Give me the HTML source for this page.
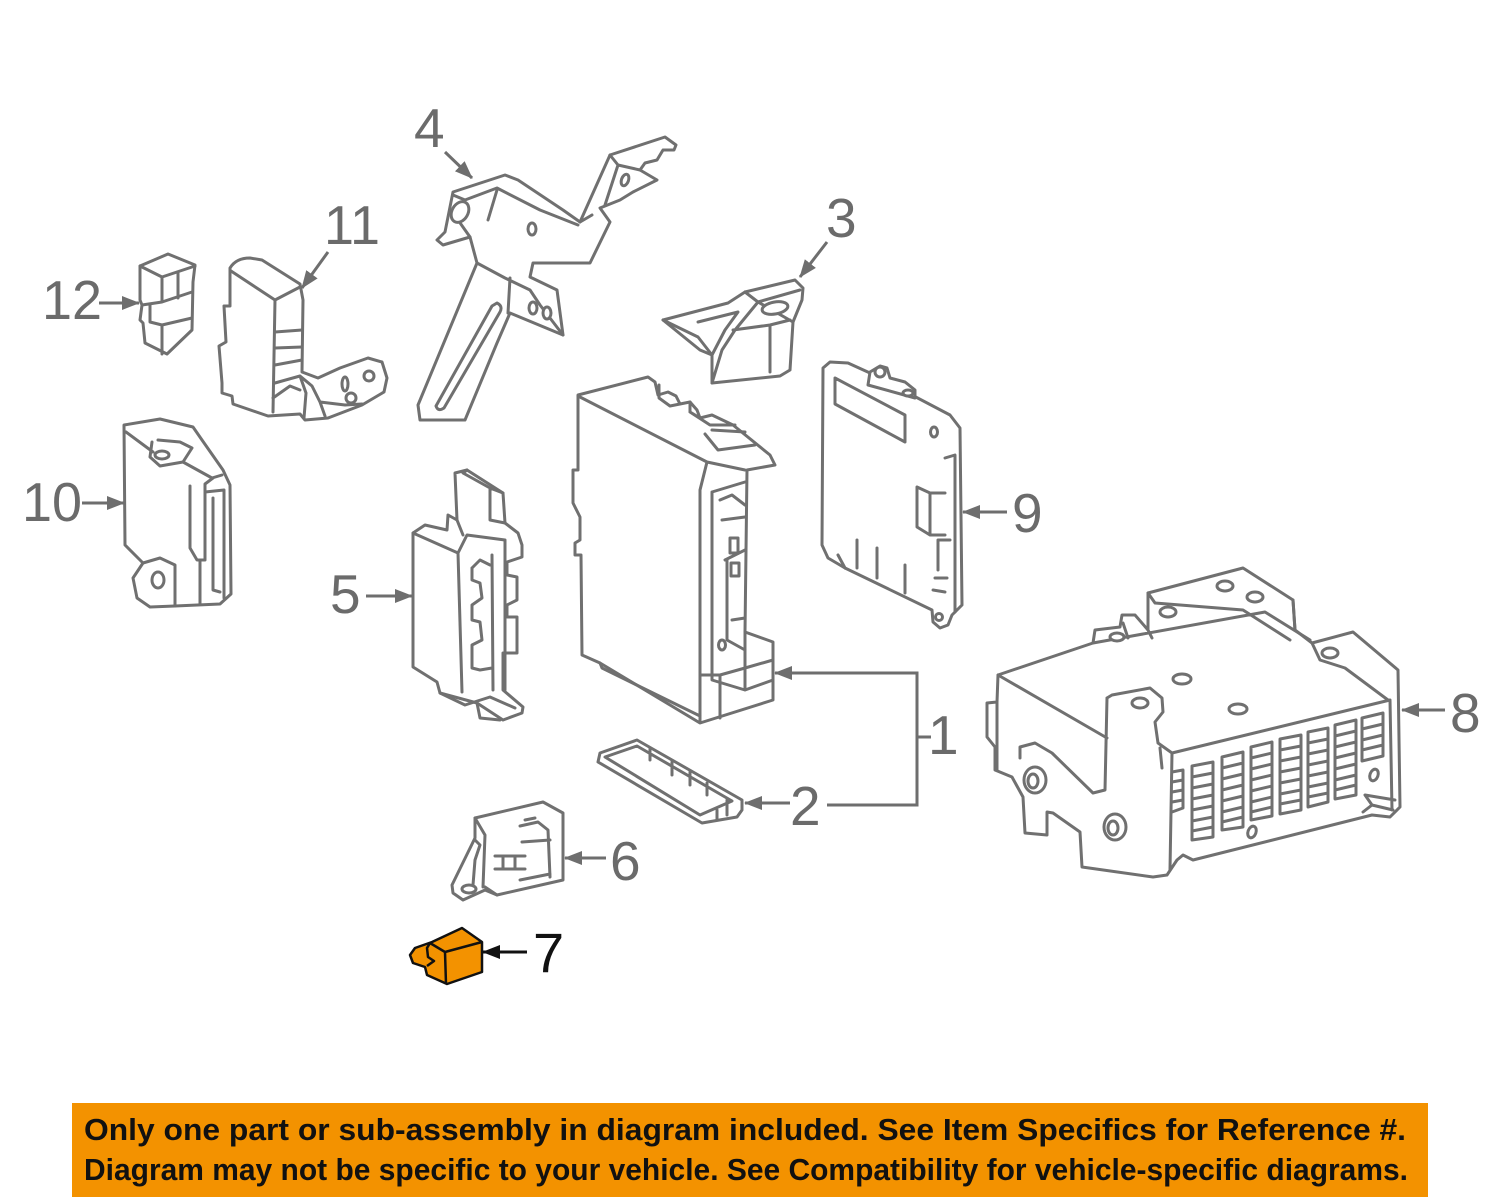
<!DOCTYPE html>
<html><head><meta charset="utf-8"><style>
html,body{margin:0;padding:0;background:#fff;}
svg{display:block;}
</style></head><body>
<svg width="1500" height="1197" viewBox="0 0 1500 1197" xmlns="http://www.w3.org/2000/svg">
<defs>
<marker id="ah" markerWidth="18" markerHeight="16" refX="17" refY="8" orient="auto" markerUnits="userSpaceOnUse"><path d="M0,1 L18,8 L0,15 Z" fill="#6e6e6e"/></marker>
<marker id="ahk" markerWidth="18" markerHeight="16" refX="17" refY="8" orient="auto" markerUnits="userSpaceOnUse"><path d="M0,1 L18,8 L0,15 Z" fill="#111"/></marker>
</defs>

<g fill="#fff" stroke="#707070" stroke-width="3" stroke-linejoin="round" stroke-linecap="round">

<!-- Part 12 -->
<path d="M140,266 L168,254 L195,265 L193,282 L192,330 L167,354 L145,343 L143,323 L140,320 L142,305 L140,300 Z"/>
<path fill="none" d="M140,266 L162,277 L195,266 M162,277 L162,302 M142,305 L162,302 L192,292 M150,305 L150,322 L162,325 L162,354 M162,325 L192,318 M178,272 L178,298"/>

<!-- Part 11 -->
<path d="M230,268 Q236,258 250,258 L262,260 L300,284 L303,300 L302,372 L318,378 L340,368 L368,358 L382,362 L387,378 L384,392 L362,405 L328,418 L305,420 L300,414 L268,416 L233,404 L232,396 L222,393 L222,383 L219,346 L226,342 L224,306 L230,306 Z"/>
<path fill="none" d="M231,271 L275,300 L300,287 M275,300 L273,412 M275,332 L302,330 M275,348 L302,347 M275,365 L302,360 M275,383 L300,376 L312,386 L320,402 L345,405 L362,404 M300,376 L306,393 L304,418 M273,398 L290,386 L300,390 M320,402 L325,416"/>
<ellipse cx="345" cy="384" rx="3" ry="7"/>
<circle cx="369" cy="376" r="5"/>
<circle cx="351" cy="398" r="5"/>

<!-- Part 10 -->
<path d="M124,425 L160,419 L193,427 L202,440 L223,470 L230,485 L231,594 L220,604 L175,606 L150,607 L137,598 L133,578 L143,563 L125,545 Z"/>
<path fill="none" d="M126,432 L153,452 M152,442 L150,457 L160,466 L183,462 L192,448 L180,442 L158,440 M183,462 L212,478 L222,475 M190,486 L190,548 L197,560 L205,560 L205,484 L213,478 M205,492 L224,490 L224,598 M200,560 L200,604 M213,498 L213,590 L220,592 M143,563 L160,558 L175,565 L175,606"/>
<ellipse cx="162" cy="455" rx="7" ry="4"/>
<ellipse cx="158" cy="580" rx="6" ry="8"/>

<!-- Part 4 -->
<path d="M437,240 L445,232 L453,192 L505,175 L518,180 L563,210 L580,222 L610,155 L665,137 L676,145 L674,150 L663,150 L657,160 L645,163 L640,170 L657,180 L633,192 L620,200 L600,208 L610,222 L590,263 L533,263 L530,277 L557,290 L563,335 L510,313 L497,343 L465,420 L420,420 L418,405 L477,263 L470,237 L443,245 Z"/>
<path fill="none" d="M453,195 L465,200 L497,188 L540,210 L578,225 M465,200 L458,220 L470,237 M497,190 L488,220 M477,263 L505,278 L530,290 L540,305 L563,335 M510,278 L508,313 M610,155 L618,165 L640,170 M618,165 L605,205 M580,222 L592,215"/>
<path d="M497,303 Q503,306 500,312 L444,408 Q438,412 436,406 L492,306 Z"/>
<ellipse cx="460" cy="212" rx="8" ry="11" transform="rotate(30 460 212)"/>
<ellipse cx="532" cy="229" rx="4" ry="6"/>
<ellipse cx="533" cy="308" rx="4" ry="6"/>
<ellipse cx="547" cy="313" rx="4" ry="6"/>
<ellipse cx="625" cy="180" rx="3.5" ry="6" transform="rotate(20 625 180)"/>

<!-- Part 3 -->
<path d="M663,320 L728,303 L745,292 L795,280 L803,288 L802,300 L793,322 L790,370 L780,376 L712,383 L712,355 L700,350 Z"/>
<path fill="none" d="M663,320 L698,337 L712,355 M698,322 L738,312 L725,330 L712,355 M745,292 L758,302 L793,322 M758,302 L735,330 L722,350 L712,383 M733,330 L770,325 L790,320 M770,325 L770,372 M758,302 L800,290"/>
<ellipse cx="775" cy="308" rx="13" ry="6" transform="rotate(-10 775 308)"/>

<!-- Part 9 -->
<path d="M823,368 L830,362 L848,363 L870,373 L950,415 L960,428 L962,605 L952,615 L948,625 L940,628 L933,622 L932,610 L845,568 L828,558 L822,545 Z"/>
<path fill="none" d="M835,378 L905,415 L905,442 L835,404 Z M945,458 L955,455 L955,612 M917,487 L930,493 L945,493 M917,487 L917,527 L930,535 L945,535 M930,493 L930,535 M938,540 L950,540 M938,540 L938,570 M935,578 L947,578 M933,590 L945,592 M838,555 L845,568 M857,540 L857,568 M877,548 L877,578 M905,565 L905,593"/>
<path d="M868,385 L870,372 L880,366 L887,368 L890,378 L905,382 L915,390 L915,398 Z"/>
<circle cx="880" cy="372" r="5"/>
<ellipse cx="908" cy="393" rx="5" ry="3"/>
<ellipse cx="934" cy="432" rx="3.5" ry="5"/>
<circle cx="939" cy="617" r="3.5"/>

<!-- Part 1 -->
<path d="M578,395 L648,377 L655,382 L658,395 L668,392 L676,396 L680,404 L690,402 L697,410 L700,418 L712,415 L733,425 L770,455 L775,465 L747,470 L745,632 L773,642 L773,700 L700,723 L600,663 L582,655 L581,555 L575,555 L575,543 L580,540 L580,517 L573,503 L573,470 L578,470 Z"/>
<path fill="none" d="M578,396 L707,462 L745,470 M707,462 L700,490 L700,722 M712,492 L745,482 M712,492 L712,680 L745,690 M720,500 L732,495 L745,505 M722,520 L745,517 M745,632 L745,690 M700,675 L720,675 L745,668 L773,660 M720,675 L720,718 M745,690 L773,680 M600,663 L602,668 L700,716 M659,385 L659,398 L670,406 L680,404 M690,402 L690,412 L700,418 M690,412 L710,425 L735,425 M705,434 L718,450 L755,445 M712,430 L745,432 M725,560 L745,550 M727,560 L727,640 L745,650 M732,620 L745,618"/>
<rect x="730" y="538" width="8" height="15" fill="none"/>
<rect x="731" y="563" width="8" height="13" fill="none"/>
<ellipse cx="722" cy="645" rx="3.5" ry="5"/>

<!-- Part 5 -->
<path d="M413,533 L425,525 L447,530 L448,515 L457,520 L455,473 L467,470 L503,493 L505,523 L518,533 L522,545 L522,557 L507,562 L507,575 L517,577 L517,600 L507,605 L507,617 L517,617 L517,653 L503,653 L503,690 L523,707 L522,713 L503,720 L477,703 L440,693 L437,682 L413,667 Z"/>
<path fill="none" d="M413,533 L458,553 L467,535 L505,540 M458,553 L462,692 M457,520 L463,535 M467,470 L463,473 L490,488 L503,493 M490,488 L490,520 L505,523 M492,555 L493,690 M472,568 L480,560 L490,565 M472,568 L472,580 L480,583 L482,598 L472,605 L472,620 L480,622 L482,640 L472,645 L472,668 L480,670 L492,668 M505,540 L505,690 M440,693 L465,705 L490,697 L515,708 M477,703 L480,718 L500,720"/>

<!-- Part 2 -->
<path d="M600,753 L637,740 L742,800 L742,810 L737,817 L702,823 L598,762 Z"/>
<path fill="none" d="M605,757 L637,746 L732,801 L700,815 Z M650,748 L650,760 M672,762 L672,775 M690,772 L690,785 M707,783 L707,795 M717,810 L717,820 M727,800 L727,815"/>

<!-- Part 6 -->
<path d="M475,818 L543,802 L563,813 L563,880 L497,895 L485,890 L463,900 L453,893 L452,885 L475,838 Z"/>
<path fill="none" d="M475,818 L485,835 L483,887 M475,840 L480,845 L475,860 L473,885 M520,826 L538,822 L548,830 L550,877 M525,820 L535,818 M495,856 L525,856 M495,869 L525,869 M503,856 L503,869 M515,856 L515,869 M522,842 L550,840 M520,880 L550,874 M485,887 L497,895"/>
<ellipse cx="469" cy="889" rx="7" ry="4"/>

<!-- Part 8 -->
<path d="M998,675 L1093,643 L1095,630 L1120,627 L1122,615 L1135,615 L1148,630 L1148,593 L1243,568 L1293,600 L1295,630 L1312,643 L1353,632 L1398,670 L1400,807 L1390,817 L1372,815 L1193,860 L1183,855 L1177,860 L1167,875 L1153,877 L1082,867 L1080,832 L1053,813 L1047,812 L1047,835 L1025,833 L1023,797 L1012,777 L995,770 L995,747 L987,737 L987,703 L997,702 Z"/>
<path fill="none" d="M998,675 L1107,738 M1107,698 L1112,695 L1150,688 L1162,698 L1163,712 L1155,722 L1158,743 L1172,753 L1390,700 M1107,698 L1105,790 L1093,793 L1052,753 L1035,743 L1020,747 L1020,758 M1172,753 L1170,870 M1160,748 L1162,768 M1093,643 L1265,612 L1310,640 M1148,630 L1152,638 M1148,593 L1155,603 L1243,610 L1290,640 M1295,630 L1293,600 M1312,643 L1320,660 L1345,668 L1388,700 M1390,700 L1392,810 M1363,812 L1372,805 L1393,810 M1372,805 L1365,795 L1395,800 M997,702 L997,770 M1123,623 L1128,638"/>
<ellipse cx="1182" cy="679" rx="9" ry="5"/>
<ellipse cx="1238" cy="709" rx="9" ry="5"/>
<ellipse cx="1140" cy="703" rx="8" ry="5"/>
<ellipse cx="1225" cy="586" rx="8" ry="5"/>
<ellipse cx="1255" cy="597" rx="8" ry="5"/>
<ellipse cx="1168" cy="612" rx="8" ry="5"/>
<ellipse cx="1117" cy="637" rx="7" ry="4"/>
<ellipse cx="1330" cy="653" rx="8" ry="5"/>
<ellipse cx="1035" cy="780" rx="11" ry="13"/>
<ellipse cx="1033" cy="781" rx="5" ry="7"/>
<ellipse cx="1115" cy="827" rx="11" ry="13"/>
<ellipse cx="1113" cy="828" rx="5" ry="7"/>
<g fill="none">
<path d="M1192,766 L1213,762 L1213,837 L1192,840 Z M1192,777 L1213,773 M1192,788 L1213,784 M1192,799 L1213,795 M1192,810 L1213,806 M1192,821 L1213,817 M1192,831 L1213,827"/>
<path d="M1222,757 L1243,752 L1243,827 L1222,830 Z M1222,768 L1243,763 M1222,779 L1243,774 M1222,790 L1243,785 M1222,801 L1243,796 M1222,812 L1243,807 M1222,822 L1243,817"/>
<path d="M1251,747 L1272,742 L1272,816 L1251,820 Z M1251,758 L1272,753 M1251,769 L1272,764 M1251,780 L1272,775 M1251,791 L1272,786 M1251,802 L1272,797 M1251,812 L1272,807"/>
<path d="M1280,739 L1301,735 L1301,810 L1280,814 Z M1280,750 L1301,746 M1280,761 L1301,757 M1280,772 L1301,768 M1280,783 L1301,779 M1280,794 L1301,790 M1280,804 L1301,800"/>
<path d="M1308,732 L1328,728 L1328,802 L1308,807 Z M1308,743 L1328,739 M1308,754 L1328,750 M1308,765 L1328,761 M1308,776 L1328,772 M1308,787 L1328,783 M1308,797 L1328,793"/>
<path d="M1335,725 L1356,720 L1356,795 L1335,799 Z M1335,736 L1356,731 M1335,747 L1356,742 M1335,758 L1356,753 M1335,769 L1356,764 M1335,780 L1356,775 M1335,790 L1356,785"/>
<path d="M1362,718 L1383,713 L1383,756 L1362,761 Z M1362,729 L1383,724 M1362,740 L1383,735 M1362,750 L1383,745"/>
<path d="M1172,772 L1183,770 L1183,808 L1172,812 M1172,782 L1183,780 M1172,792 L1183,790 M1172,802 L1183,800"/>
</g>
<ellipse cx="1252" cy="832" rx="4" ry="6" transform="rotate(20 1252 832)"/>
<ellipse cx="1374" cy="775" rx="4" ry="6" transform="rotate(20 1374 775)"/>
</g>

<!-- Part 7 (orange) -->
<g fill="#f39200" stroke="#111" stroke-width="2.5" stroke-linejoin="round">
<path d="M410,955 L415,948 L432,942 L462,928 L482,942 L482,972 L447,984 L427,975 L425,967 L413,963 Z"/>
<path fill="none" d="M430,943 L445,952 L482,942 M445,952 L446,984 M430,943 L427,948 L428,957 L434,961 L427,966"/>
</g>

<!-- Leaders -->
<g stroke="#6e6e6e" stroke-width="3" fill="none">
<line x1="445" y1="152" x2="472" y2="178" marker-end="url(#ah)"/>
<line x1="328" y1="252" x2="302" y2="288" marker-end="url(#ah)"/>
<line x1="99" y1="303" x2="139" y2="303" marker-end="url(#ah)"/>
<line x1="827" y1="242" x2="800" y2="277" marker-end="url(#ah)"/>
<line x1="82" y1="503" x2="124" y2="503" marker-end="url(#ah)"/>
<line x1="366" y1="596" x2="412" y2="596" marker-end="url(#ah)"/>
<line x1="1007" y1="512" x2="963" y2="512" marker-end="url(#ah)"/>
<line x1="1445" y1="710" x2="1402" y2="710" marker-end="url(#ah)"/>
<line x1="606" y1="858" x2="565" y2="858" marker-end="url(#ah)"/>
<polyline points="917,737 917,673 775,673" marker-end="url(#ah)"/>
<polyline points="917,737 917,805 827,805"/>
<line x1="917" y1="737" x2="931" y2="737"/>
<line x1="790" y1="803" x2="745" y2="803" marker-end="url(#ah)"/>
</g>
<line x1="527" y1="952" x2="483" y2="952" stroke="#111" stroke-width="3" marker-end="url(#ahk)"/>

<!-- Labels -->
<g font-family="Liberation Sans, sans-serif" font-size="55" fill="#6b6b6b">
<text x="414" y="147">4</text>
<text x="324" y="244" textLength="56" lengthAdjust="spacingAndGlyphs">11</text>
<text x="42" y="319" textLength="60" lengthAdjust="spacingAndGlyphs">12</text>
<text x="826" y="237">3</text>
<text x="22" y="521" textLength="60" lengthAdjust="spacingAndGlyphs">10</text>
<text x="330" y="613">5</text>
<text x="1012" y="532">9</text>
<text x="928" y="754">1</text>
<text x="790" y="825">2</text>
<text x="1450" y="732">8</text>
<text x="610" y="880">6</text>
</g>
<text x="533" y="972" font-family="Liberation Sans, sans-serif" font-size="56" fill="#111">7</text>

<!-- Banner -->
<rect x="72" y="1103" width="1356" height="94" fill="#f39200"/>
<g font-family="Liberation Sans, sans-serif" font-weight="bold" font-size="31" fill="#111">
<text x="84" y="1140" textLength="1322" lengthAdjust="spacingAndGlyphs">Only one part or sub-assembly in diagram included. See Item Specifics for Reference #.</text>
<text x="84" y="1180" textLength="1324" lengthAdjust="spacingAndGlyphs">Diagram may not be specific to your vehicle. See Compatibility for vehicle-specific diagrams.</text>
</g>
</svg>
</body></html>
